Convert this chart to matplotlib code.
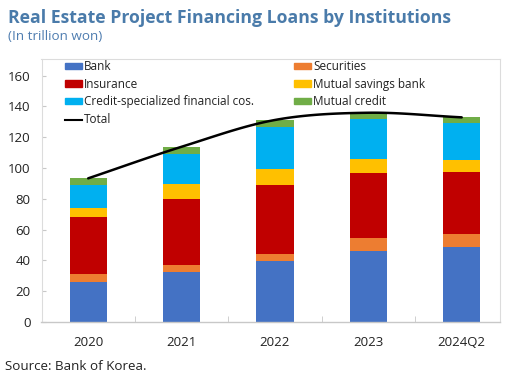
import numpy as np
import matplotlib
matplotlib.use("Agg")
import matplotlib.pyplot as plt
from matplotlib.lines import Line2D
from matplotlib.patches import Patch

plt.rcParams['font.family'] = ['Open Sans', 'DejaVu Sans']

# Data (trillion won)
categories = ["2020", "2021", "2022", "2023", "2024Q2"]
bank = [26.2, 32.2, 39.6, 46.3, 48.5]
securities = [5.1, 5.0, 4.8, 8.0, 8.6]
insurance = [36.7, 42.5, 44.3, 42.2, 40.3]
savings_bank = [6.2, 9.7, 10.7, 9.3, 7.8]
credit_specialized = [14.8, 19.6, 27.4, 25.8, 24.2]
mutual_credit = [4.3, 4.8, 4.4, 4.3, 3.5]
yticks = [0, 20, 40, 60, 80, 100, 120, 140, 160]

series = [
    ("Bank", bank, "#4472C4"),
    ("Securities", securities, "#ED7D31"),
    ("Insurance", insurance, "#C00000"),
    ("Mutual savings bank", savings_bank, "#FFC000"),
    ("Credit-specialized financial cos.", credit_specialized, "#00B0F0"),
    ("Mutual credit", mutual_credit, "#70AD47"),
]
total = np.sum([s[1] for s in series], axis=0)

W, H = 505, 379
fig = plt.figure(figsize=(W / 100, H / 100), dpi=100)
ax = fig.add_axes([41.5 / W, 1 - 322 / H, (500 - 41.5) / W, (322 - 59) / H])

x = np.arange(len(categories))
bottom = np.zeros(len(categories))
for name, vals, color in series:
    ax.bar(x, vals, width=0.4, bottom=bottom, color=color, linewidth=0, zorder=2)
    bottom += np.array(vals)


def smooth(xs, ys, n=30):
    # Catmull-Rom spline through the points
    px = np.concatenate([[2 * xs[0] - xs[1]], xs, [2 * xs[-1] - xs[-2]]])
    py = np.concatenate([[2 * ys[0] - ys[1]], ys, [2 * ys[-1] - ys[-2]]])
    ox, oy = [], []
    for i in range(1, len(px) - 2):
        t = np.linspace(0, 1, n, endpoint=(i == len(px) - 3))
        for p, out in ((px, ox), (py, oy)):
            p0, p1, p2, p3 = p[i - 1], p[i], p[i + 1], p[i + 2]
            out.extend(0.5 * ((2 * p1) + (-p0 + p2) * t
                              + (2 * p0 - 5 * p1 + 4 * p2 - p3) * t ** 2
                              + (-p0 + 3 * p1 - 3 * p2 + p3) * t ** 3))
    return np.array(ox), np.array(oy)


sx, sy = smooth(x.astype(float), total.astype(float))
ax.plot(sx, sy, color="black", linewidth=1.8, zorder=3, solid_capstyle="round")

ax.set_xlim(-0.5, 4.41)
ax.set_ylim(0, 170.8)
ax.set_yticks(yticks)
ax.set_xticks(x)
ax.set_xticklabels(categories)
ax.set_xticks(np.arange(-0.5, 4.5, 1.0)[1:], minor=True)

ax.tick_params(axis="y", direction="in", length=3, color="#c8c8c8", labelsize=9.5,
               labelcolor="#222222", pad=8)
ax.tick_params(axis="x", which="major", length=0, labelsize=9.5, labelcolor="#222222", pad=10)
ax.tick_params(axis="x", which="minor", direction="in", length=4, color="#c8c8c8")
for side in ["left", "top", "right"]:
    ax.spines[side].set_color("#dcdcdc")
    ax.spines[side].set_linewidth(0.8)
ax.spines["bottom"].set_color("#c8c8c8")
ax.spines["bottom"].set_linewidth(1.0)

handles = [
    Patch(color="#4472C4", label="Bank"),
    Patch(color="#C00000", label="Insurance"),
    Patch(color="#00B0F0", label="Credit-specialized financial cos."),
    Line2D([], [], color="black", linewidth=1.5, label="Total"),
    Patch(color="#ED7D31", label="Securities"),
    Patch(color="#FFC000", label="Mutual savings bank"),
    Patch(color="#70AD47", label="Mutual credit"),
]
leg = ax.legend(handles=handles, ncol=2, loc="upper left",
                bbox_to_anchor=(65 / W, 1 - 60 / H), bbox_transform=fig.transFigure,
                frameon=False, fontsize=8.5, handlelength=1.4, handleheight=0.42,
                handletextpad=0.2, columnspacing=3.4, labelspacing=0.4,
                borderpad=0, borderaxespad=0)
for t in leg.get_texts():
    t.set_color("#222222")

fig.text(8 / W, 1 - 18 / H, "Real Estate Project Financing Loans by Institutions",
         fontsize=12.7, fontweight="bold", color="#4A7BAA", va="center", ha="left")
fig.text(8 / W, 1 - 37 / H, "(In trillion won)", fontsize=9.7, color="#4F7DB0",
         va="center", ha="left")
fig.text(5 / W, 1 - 366 / H, "Source: Bank of Korea.", fontsize=9.6, color="#222222",
         va="center", ha="left")

fig.savefig("out.png", dpi=100)
